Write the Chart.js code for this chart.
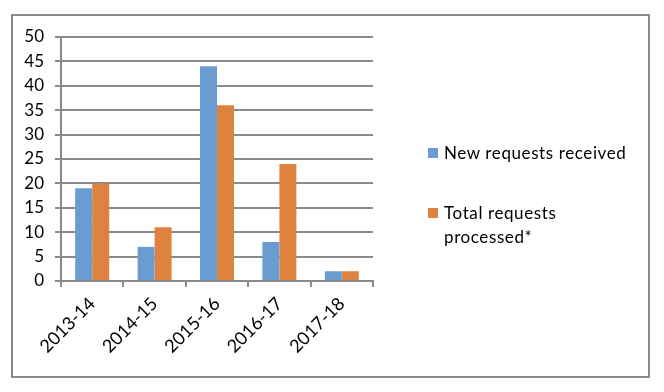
<!DOCTYPE html>
<html>
<head>
<meta charset="utf-8">
<script src="https://cdn.jsdelivr.net/npm/chart.js@4/dist/chart.umd.min.js"></script>
<style>
  html, body { margin: 0; padding: 0; background: #fff; }
  #wrap { position: relative; width: 664px; height: 392px; overflow: hidden; }
  #frame { position: absolute; left: 11px; top: 14px; width: 635px; height: 360px; border: 2px solid #8a8a8a; }
  #c { position: absolute; left: 0; top: 0; }
  .lg { position: absolute; font-family: Lato, "Liberation Sans", sans-serif; font-size: 17px; letter-spacing: 0.6px; color: #000; line-height: 24px; }
  .sw { position: absolute; width: 10px; height: 10px; }
</style>
</head>
<body>
<div id="wrap">
  <div id="frame"></div>
  <canvas id="c" width="664" height="392"></canvas>
  <div class="sw" id="sw1" style="left:428px; top:148px;"></div>
  <div class="lg" id="lg1" style="left:444px; top:141px;"></div>
  <div class="sw" id="sw2" style="left:428px; top:208px;"></div>
  <div class="lg" id="lg2" style="left:444px; top:201px;"></div>
</div>
<script>
const categories = ["2013-14", "2014-15", "2015-16", "2016-17", "2017-18"];
const newRequests = [19, 7, 44, 8, 2];
const totalProcessed = [20, 11, 36, 24, 2];
const seriesNames = ["New requests received", "Total requests processed*"];
const seriesColors = ["#6a9bd1", "#e0823f"];
const yMin = 0, yMax = 50, yStep = 5;

document.getElementById('sw1').style.background = seriesColors[0];
document.getElementById('sw2').style.background = seriesColors[1];
document.getElementById('lg1').textContent = seriesNames[0];
const parts = seriesNames[1].split(' ');
document.getElementById('lg2').innerHTML = parts.slice(0, 2).join(' ') + '<br>' + parts.slice(2).join(' ');

const gridGray = '#8a8a8a';
const fam = 'Lato, "Liberation Sans", sans-serif';

new Chart(document.getElementById('c'), {
  type: 'bar',
  data: {
    labels: categories,
    datasets: [
      { label: seriesNames[0], data: newRequests, backgroundColor: seriesColors[0], borderWidth: 0, categoryPercentage: 0.545, barPercentage: 1 },
      { label: seriesNames[1], data: totalProcessed, backgroundColor: seriesColors[1], borderWidth: 0, categoryPercentage: 0.545, barPercentage: 1 }
    ]
  },
  options: {
    responsive: false,
    animation: false,
    devicePixelRatio: 1,
    layout: { padding: { left: 0, top: 37, right: 291, bottom: 0 } },
    plugins: { legend: { display: false }, tooltip: { enabled: false } },
    scales: {
      x: {
        offset: true,
        grid: { display: true, drawOnChartArea: false, drawTicks: true, tickLength: 6, color: gridGray, lineWidth: 2, offset: true },
        border: { display: true, color: gridGray, width: 2 },
        ticks: { color: '#000', font: { family: fam, size: 18 }, minRotation: 45, maxRotation: 45, padding: 6 },
        afterFit: (axis) => { axis.height = 111; }
      },
      y: {
        min: yMin, max: yMax,
        grid: { color: gridGray, lineWidth: 2, drawTicks: true, tickLength: 6 },
        border: { display: true, color: gridGray, width: 2 },
        ticks: { stepSize: yStep, color: '#000', font: { family: fam, size: 17 }, padding: 11 },
        afterFit: (axis) => { axis.width = 61; }
      }
    }
  }
});
</script>
</body>
</html>
